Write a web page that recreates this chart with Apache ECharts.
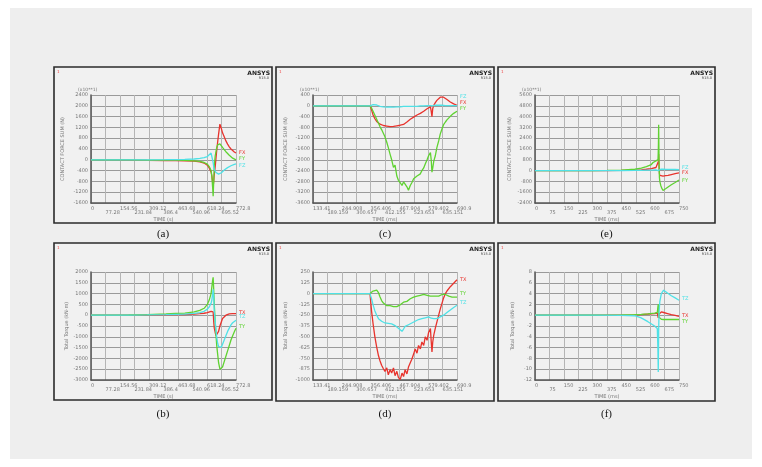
<!DOCTYPE html>
<html><head><meta charset="utf-8">
<script src="https://cdn.jsdelivr.net/npm/echarts@6/dist/echarts.min.js"></script>
<style>html,body{margin:0;padding:0;background:#fff;}#c{width:762px;height:467px;}</style>
</head><body><div id="c"></div>
<script>
// ---------- tick labels ----------
const xTicksA = ['0','77.28','154.56','231.84','309.12','386.4','463.68','540.96','618.24','695.52','772.8'];
const xTicksC = ['133.41','189.159','244.908','300.657','356.406','412.155','467.904','523.653','579.402','635.151','690.9'];
const xTicksE = ['0','75','150','225','300','375','450','525','600','675','750'];
const yScaleA = [-1600, 2400, 400];
const yScaleB = [-3000, 2000, 500];
const yScaleC = [-3600, 400, 400];
const yScaleD = [-1000, 250, 125];
const yScaleE = [-2400, 5600, 800];
const yScaleF = [-12, 8, 2];
const forceNames = ['FX','FY','FZ'];
const torqueNames = ['TX','TY','TZ'];
const captions = ['(a)','(c)','(e)','(b)','(d)','(f)'];

// ---------- panel (a) ----------
const timeA = [0,100,200,300,400,450,500,550,580,603,620,630,640,644,648,651,654,657,662,666,670,675,680,687,695,701,710,719,728,737,746,755,764,772.8];
const redA = [0,-5,-15,-25,-30,-30,-35,-50,-80,-120,-200,-300,-450,-600,-800,-1000,-800,-560,-250,50,350,660,950,1320,1150,1000,850,700,580,480,400,340,290,250];
const greenA = [0,0,-5,-10,-15,-15,-20,-40,-60,-100,-160,-250,-400,-600,-1000,-1350,-800,-200,150,300,450,550,600,590,520,460,380,300,230,170,110,60,20,0];
const cyanA = [0,0,0,0,5,10,15,30,50,80,120,170,250,300,200,-100,-250,-350,-420,-470,-500,-520,-530,-520,-480,-440,-380,-330,-290,-250,-220,-190,-170,-150];

// ---------- panel (b) ----------
const timeB = [0,100,200,300,400,450,500,550,580,603,620,630,640,644,648,651,654,657,662,666,670,675,680,687,695,701,710,719,728,737,746,755,764,772.8];
const redB = [0,0,5,10,20,25,30,50,70,90,120,150,180,200,210,150,-300,-600,-800,-950,-1000,-900,-750,-500,-300,-150,-60,0,40,60,70,75,78,77];
const greenB = [0,0,10,30,60,80,100,150,220,320,500,700,1000,1300,1600,1750,1200,500,-300,-900,-1400,-1800,-2200,-2500,-2540,-2400,-2150,-1900,-1650,-1400,-1150,-950,-770,-600];
const cyanB = [0,0,5,15,30,40,50,80,120,180,280,380,550,700,950,1200,800,200,-300,-700,-1000,-1300,-1450,-1540,-1480,-1350,-1150,-950,-750,-600,-450,-350,-280,-230];

// ---------- panels (c) and (d) ----------
const timeC = [133.41,200,300,354,360,366,373,380,387,393,399,406,412,419,425,432,438,445,451,458,464,471,478,484,490,497,503,510,516,523,529,536,542,549,555,562,568,575,581,588,591,594,597,601,607,613,620,626,633,639,646,652,659,665,672,678,684,690.9];
const redC = [0,0,0,0,-150,-340,-480,-580,-640,-680,-700,-730,-710,-750,-730,-770,-740,-760,-720,-740,-700,-720,-680,-690,-640,-600,-560,-500,-470,-420,-400,-340,-300,-280,-220,-200,-130,-110,-60,-40,-200,-400,-100,20,120,200,260,320,360,320,270,230,180,140,100,70,40,20];
const greenC = [0,0,0,0,-80,-200,-350,-500,-650,-780,-880,-950,-1150,-1350,-1550,-1800,-2000,-2280,-2200,-2600,-2760,-2850,-2950,-2820,-2900,-3000,-3127,-2950,-2850,-2700,-2650,-2600,-2580,-2520,-2400,-2300,-2160,-2000,-1850,-1730,-2000,-2460,-2300,-2050,-1850,-1550,-1300,-1050,-850,-700,-600,-520,-450,-390,-340,-280,-240,-200];
const cyanC = [0,0,0,0,20,40,70,30,0,-20,-30,-40,-30,-50,-30,-40,-30,-50,-30,-40,-20,-40,-30,-20,-30,-20,-10,-20,-10,-20,-10,-20,-10,0,-10,0,-10,10,0,10,20,10,0,10,20,10,20,10,20,10,10,10,10,10,10,10,10,10];
const redD = [0,0,0,0,-200,-350,-500,-620,-720,-780,-830,-870,-900,-860,-940,-880,-920,-860,-950,-900,-970,-995,-920,-960,-880,-930,-850,-800,-760,-700,-640,-690,-600,-640,-560,-600,-500,-540,-450,-405,-550,-675,-560,-480,-400,-330,-250,-180,-110,-50,0,30,50,80,100,120,140,160];
const greenD = [0,0,0,0,20,30,10,40,10,-40,-80,-110,-130,-140,-150,-140,-155,-150,-145,-150,-160,-130,-140,-100,-120,-90,-80,-60,-80,-40,-50,-30,-10,-20,0,-10,-30,-20,-40,-30,-50,-40,-30,-20,-30,-20,-30,-20,-10,-20,-10,-20,-30,-30,-40,-40,-40,-40];
const cyanD = [0,0,0,0,-60,-130,-200,-250,-290,-300,-320,-330,-340,-330,-345,-340,-350,-360,-370,-380,-400,-420,-436,-410,-380,-370,-360,-350,-340,-330,-320,-330,-300,-310,-290,-300,-280,-290,-270,-280,-285,-290,-280,-290,-280,-290,-280,-270,-260,-250,-240,-220,-200,-190,-170,-160,-150,-135];

// ---------- panel (e) ----------
const timeE = [0,150,300,375,450,520,554,580,606,615,630,638,641,643,644,646,648,650,655,660,667,680,693,710,730,750];
const redE = [0,0,0,5,10,40,60,100,150,180,230,270,300,700,1230,300,-200,-350,-400,-420,-410,-380,-350,-290,-230,-172];
const greenE = [0,0,0,10,30,100,180,300,450,600,720,780,812,2000,3400,800,-500,-800,-1100,-1300,-1477,-1350,-1220,-1050,-880,-700];
const cyanE = [0,0,0,0,0,10,20,30,40,50,60,40,0,-50,-100,0,50,80,100,100,100,95,90,85,80,74];

// ---------- panel (f) ----------
const timeF = [0,150,300,450,519,553,588,623,637,640,642,644,646,650,658,670,690,710,730,750];
const redF = [0,0,0,0.02,0.05,0.1,0.2,0.3,0.4,0.5,-0.5,-0.3,0.2,0.5,0.6,0.5,0.3,0.1,-0.05,-0.2];
const greenF = [0,0,0,0.05,0.1,0.15,0.25,0.4,0.5,1.5,2.0,0.5,-0.4,-0.6,-0.75,-0.8,-0.8,-0.8,-0.8,-0.8];
const cyanF = [0,0,0,-0.05,-0.1,-0.5,-1.2,-2.0,-2.47,-6,-10.5,-3,0.5,2.5,4,4.63,4.1,3.6,3.2,2.78];

// ---------- layout ----------
const COLORS = ['#e8332d','#5fd231','#4fe1e6'];
const FONT = '"DejaVu Sans", sans-serif';
const panels = [
  {box:[54,67,272,223], plot:[91,95,236,203], xt:xTicksA, t:timeA, ys:[redA,greenA,cyanA], ysc:yScaleA, names:forceNames, yName:'CONTACT FORCE SUM (N)', gap:26, xName:'TIME (s)', mult:true, cap:captions[0], capY:234, offs:[0,-1,2]},
  {box:[276,67,494,223], plot:[313,95,457,203], xt:xTicksC, t:timeC, ys:[redC,greenC,cyanC], ysc:yScaleC, names:forceNames, yName:'CONTACT FORCE SUM (N)', gap:25, xName:'TIME (ms)', mult:true, cap:captions[1], capY:234, offs:[-3,-2,-9]},
  {box:[498,67,715,223], plot:[535,95,679,203], xt:xTicksE, t:timeE, ys:[redE,greenE,cyanE], ysc:yScaleE, names:forceNames, yName:'CONTACT FORCE SUM (N)', gap:23, xName:'TIME (ms)', mult:true, cap:captions[2], capY:234, offs:[0,1,-2]},
  {box:[54,243,272,400], plot:[91,272,236,380], xt:xTicksA, t:timeB, ys:[redB,greenB,cyanB], ysc:yScaleB, names:torqueNames, yName:'Total Torque (kN·m)', gap:20, xName:'TIME (s)', mult:false, cap:captions[3], capY:414, offs:[-1,-1,-3]},
  {box:[276,243,494,401], plot:[313,272,457,380], xt:xTicksC, t:timeC, ys:[redD,greenD,cyanD], ysc:yScaleD, names:torqueNames, yName:'Total Torque (kN·m)', gap:25, xName:'TIME (ms)', mult:false, cap:captions[4], capY:414, offs:[0,-3,-3]},
  {box:[498,243,715,401], plot:[535,272,679,380], xt:xTicksE, t:timeF, ys:[redF,greenF,cyanF], ysc:yScaleF, names:torqueNames, yName:'Total Torque (kN·m)', gap:20, xName:'TIME (ms)', mult:false, cap:captions[5], capY:414, offs:[-1,2,-1]}
];

function toIdx(t, ticks){
  const a = parseFloat(ticks[0]), b = parseFloat(ticks[ticks.length-1]);
  return (t - a) / (b - a) * (ticks.length - 1);
}

const grids=[], xAxes=[], yAxes=[], series=[], graphics=[];
graphics.push({type:'rect', silent:true, z:-30, shape:{x:10,y:8,width:742,height:451}, style:{fill:'#eeeeee'}});
const labelBase = {fontSize:5, color:'#777', fontFamily:FONT, align:'left', margin:3, showMinLabel:true, showMaxLabel:true, hideOverlap:false};
panels.forEach((p,i)=>{
  const [bx0,by0,bx1,by1] = p.box;
  graphics.push({type:'rect', silent:true, z:-20, shape:{x:bx0,y:by0,width:bx1-bx0,height:by1-by0}, style:{fill:'#f1f1f1', stroke:'#2b2b2b', lineWidth:1.6}});
  graphics.push({type:'text', silent:true, x:bx1-2, y:by0+3, style:{text:'ANSYS', font:'bold 6px '+FONT, fill:'#222', align:'right', textAlign:'right', verticalAlign:'top', textVerticalAlign:'top'}});
  graphics.push({type:'text', silent:true, x:bx1-3, y:by0+9, style:{text:'R15.0', font:'3.5px '+FONT, fill:'#444', align:'right', textAlign:'right', verticalAlign:'top', textVerticalAlign:'top'}});
  graphics.push({type:'text', silent:true, x:bx0+3, y:by0+3, style:{text:'1', font:'4px '+FONT, fill:'#e44', verticalAlign:'top', textVerticalAlign:'top'}});
  graphics.push({type:'text', silent:true, x:(bx0+bx1)/2, y:p.capY, style:{text:p.cap, font:'11px "Liberation Serif", serif', fill:'#111', align:'center', textAlign:'center', verticalAlign:'middle', textVerticalAlign:'middle'}});
  if (p.mult) graphics.push({type:'text', silent:true, x:p.plot[0]-13, y:p.plot[1]-8, style:{text:'(x10**1)', font:'4.5px '+FONT, fill:'#777', verticalAlign:'top', textVerticalAlign:'top'}});

  grids.push({left:p.plot[0], top:p.plot[1], width:p.plot[2]-p.plot[0], height:p.plot[3]-p.plot[1], containLabel:false, show:false});
  const n = p.xt.length-1;
  // main x axis: even-index labels (upper row), grid lines, axis name
  xAxes.push({gridIndex:i, type:'value', min:0, max:n, interval:1, position:'bottom',
    axisLine:{show:true, onZero:false, lineStyle:{color:'#555', width:1.5}},
    axisTick:{show:false},
    splitLine:{show:true, lineStyle:{color:'#b5b5b5', width:1}},
    axisLabel:Object.assign({}, labelBase, {formatter:(v)=>{const k=Math.round(v); return k%2 ? '' : p.xt[k];}}),
    name:p.xName, nameLocation:'middle', nameGap:14, nameTextStyle:{fontSize:5, color:'#777', fontFamily:FONT}
  });
  // second x axis: odd-index labels (lower row)
  xAxes.push({gridIndex:i, type:'value', min:0, max:n, interval:1, position:'bottom', offset:4.5,
    axisLine:{show:false, onZero:false}, axisTick:{show:false}, splitLine:{show:false},
    axisLabel:Object.assign({}, labelBase, {formatter:(v)=>{const k=Math.round(v); return k%2 ? p.xt[k] : '';}})
  });
  yAxes.push({gridIndex:i, type:'value', min:p.ysc[0], max:p.ysc[1], interval:p.ysc[2],
    axisLine:{show:true, onZero:false, lineStyle:{color:'#555', width:1.5}},
    axisTick:{show:false},
    splitLine:{show:true, lineStyle:{color:'#9a9a9a', width:1}},
    axisLabel:{fontSize:5, color:'#777', fontFamily:FONT, margin:3, showMinLabel:true, showMaxLabel:true, formatter:(v)=>String(v)},
    name:p.yName, nameLocation:'middle', nameRotate:90, nameGap:p.gap, nameTextStyle:{fontSize:5, color:'#777', fontFamily:FONT}
  });
  p.ys.forEach((vals,j)=>{
    series.push({type:'line', xAxisIndex:2*i, yAxisIndex:i, symbol:'none', animation:false,
      data:p.t.map((t,k)=>[toIdx(t,p.xt), vals[k]]),
      lineStyle:{color:COLORS[j], width:1.3}, itemStyle:{color:COLORS[j]},
      endLabel:{show:true, formatter:p.names[j], color:COLORS[j], fontSize:5, fontFamily:FONT, distance:3, offset:[0,p.offs[j]]}
    });
  });
});

const chart = echarts.init(document.getElementById('c'), null, {renderer:'canvas', width:762, height:467});
chart.setOption({animation:false, backgroundColor:'#ffffff', grid:grids, xAxis:xAxes, yAxis:yAxes, series:series, graphic:{elements:graphics}});
</script>
</body></html>
